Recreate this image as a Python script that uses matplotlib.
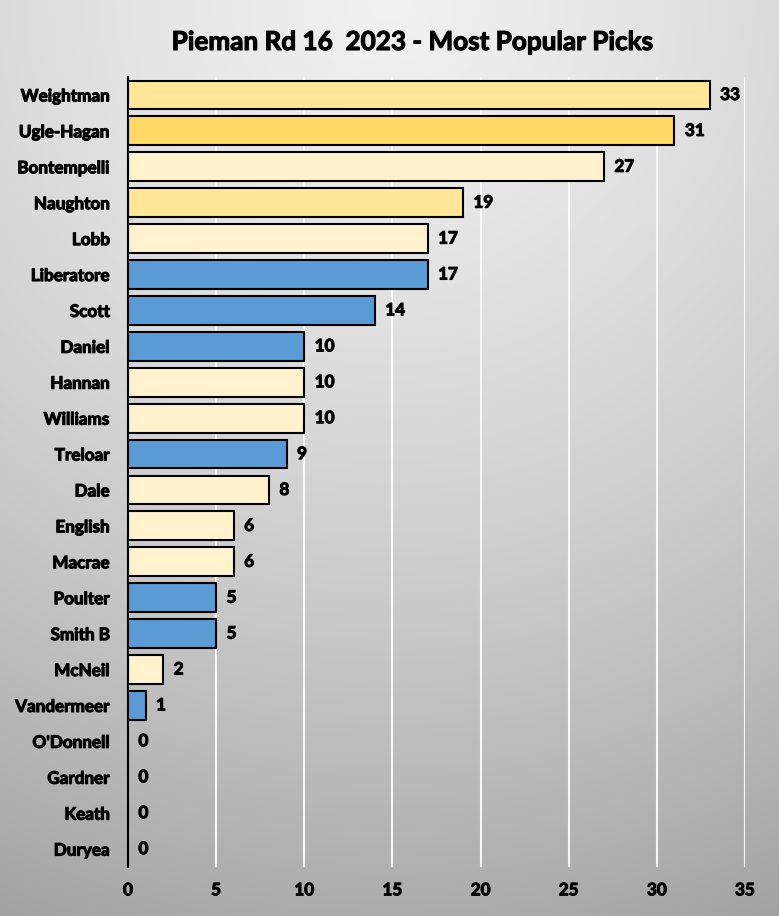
import numpy as np
import matplotlib
matplotlib.use("Agg")
import matplotlib.pyplot as plt
import matplotlib.patheffects as pe

names = ["Weightman", "Ugle-Hagan", "Bontempelli", "Naughton", "Lobb", "Liberatore",
         "Scott", "Daniel", "Hannan", "Williams", "Treloar", "Dale", "English",
         "Macrae", "Poulter", "Smith B", "McNeil", "Vandermeer", "O'Donnell",
         "Gardner", "Keath", "Duryea"]
picks = [33, 31, 27, 19, 17, 17, 14, 10, 10, 10, 9, 8, 6, 6, 5, 5, 2, 1, 0, 0, 0, 0]
groups = ["gold", "deep", "cream", "gold", "cream", "blue", "blue", "blue", "cream",
          "cream", "blue", "cream", "cream", "cream", "blue", "blue", "cream", "blue",
          "blue", "blue", "blue", "blue"]
palette = {"gold": "#ffe699", "deep": "#ffd966", "cream": "#fff2cc", "blue": "#5b9bd5"}
title = "Pieman Rd 16  2023 - Most Popular Picks"
xticks = [0, 5, 10, 15, 20, 25, 30, 35]

W, H = 779, 916
fig = plt.figure(figsize=(W / 100, H / 100), dpi=100)

# background radial gradient
bg = fig.add_axes([0, 0, 1, 1], zorder=-10)
yy, xx = np.mgrid[0:H, 0:W]
d = np.hypot(xx - W / 2, yy)
v = (242 - 0.045 * d - 0.000035 * d ** 2) / 255.0
v = np.clip(v, 0, 1)
bg.imshow(np.dstack([v, v, v]), extent=[0, 1, 0, 1], aspect="auto", origin="upper")
bg.set_axis_off()

ax = fig.add_axes([128 / W, 1 - 867 / H, (745 - 128) / W, (867 - 77) / H])
ax.set_facecolor("none")

y = np.arange(len(names))
colors = [palette[g] for g in groups]
ax.barh(y, picks, height=0.8, color=colors, edgecolor="black", linewidth=1.5, zorder=3)

fx = [pe.withStroke(linewidth=0.8, foreground="black")]
font = "Lato"
fs = 12.3
for yi, val in zip(y, picks):
    ax.annotate(str(val), xy=(val, yi), xytext=(7.5, 0), textcoords="offset points",
                ha="left", va="center", fontsize=fs, fontweight="bold",
                family=font, color="black", path_effects=fx, zorder=4)

ax.set_ylim(len(names) - 0.5, -0.5)
ax.set_xlim(0, 35)
ax.set_xticks(xticks)
ax.set_yticks(y)
ax.set_yticklabels(names)
ax.grid(axis="x", color="white", linewidth=1.5, alpha=0.9, zorder=0)
ax.set_axisbelow(True)
for s in ["top", "right", "bottom"]:
    ax.spines[s].set_visible(False)
ax.spines["left"].set_linewidth(1.5)
ax.spines["left"].set_color("black")
ax.spines["left"].set_zorder(5)
ax.tick_params(axis="both", length=0)
ax.tick_params(axis="y", pad=13)
ax.tick_params(axis="x", pad=11)
for lab in ax.get_yticklabels() + ax.get_xticklabels():
    lab.set_family(font)
    lab.set_fontweight("bold")
    lab.set_fontsize(fs)
    lab.set_path_effects(fx)

fig.text(413 / W, 1 - 42 / H, title, ha="center", va="center", fontsize=18.8,
         fontweight="bold", family=font, path_effects=fx)

fig.patch.set_edgecolor("#d0d0d0")
fig.patch.set_linewidth(2)
fig.savefig("out.png", dpi=100, edgecolor=fig.get_edgecolor())
